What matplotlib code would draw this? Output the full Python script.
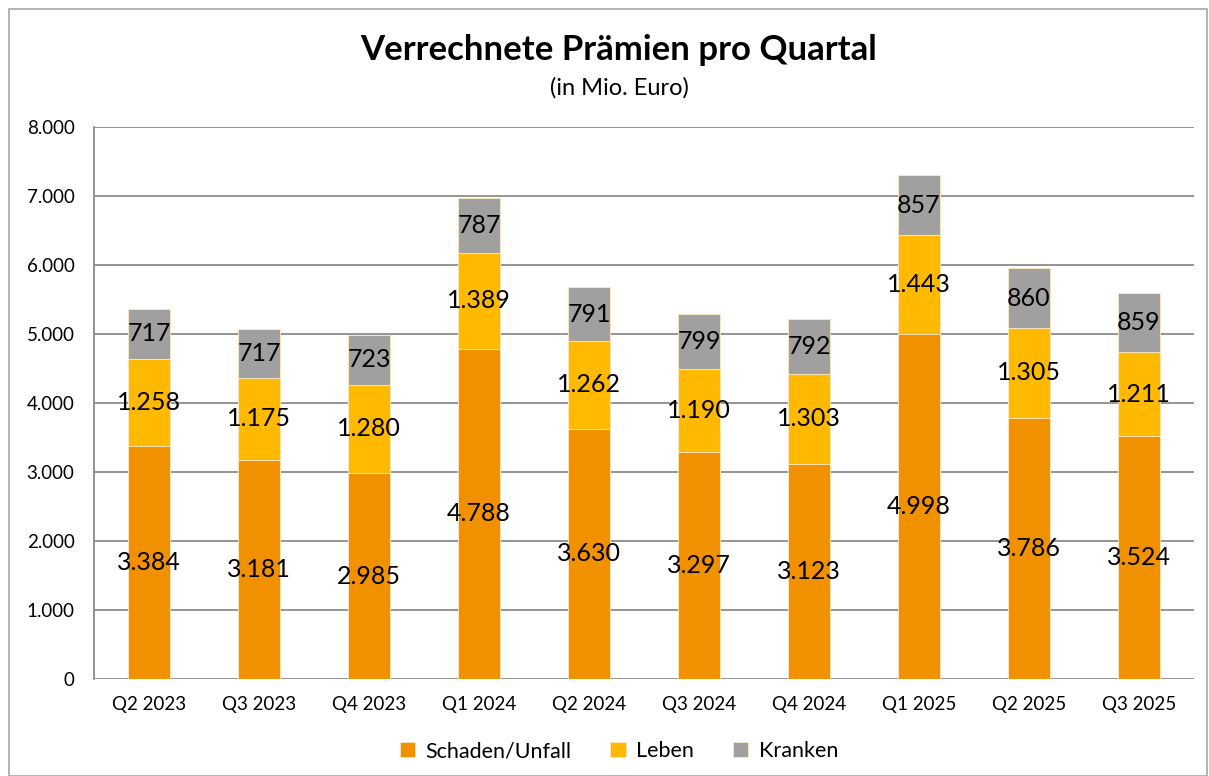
import matplotlib
matplotlib.use("Agg")
import matplotlib.pyplot as plt
import numpy as np

plt.rcParams["font.family"] = ["Lato", "DejaVu Sans"]

QUARTERS = ["Q2 2023", "Q3 2023", "Q4 2023", "Q1 2024", "Q2 2024",
            "Q3 2024", "Q4 2024", "Q1 2025", "Q2 2025", "Q3 2025"]
SCHADEN = [3384, 3181, 2985, 4788, 3630, 3297, 3123, 4998, 3786, 3524]
LEBEN = [1258, 1175, 1280, 1389, 1262, 1190, 1303, 1443, 1305, 1211]
KRANKEN = [717, 717, 723, 787, 791, 799, 792, 857, 860, 859]
SERIES = ["Schaden/Unfall", "Leben", "Kranken"]
COLORS = ["#F29100", "#FFBA00", "#A0A0A0"]
Y_TICKS = [0, 1000, 2000, 3000, 4000, 5000, 6000, 7000, 8000]


def fmt(v):
    return f"{v:,}".replace(",", ".")


fig = plt.figure(figsize=(12.09, 7.76), dpi=100)
ax = fig.add_axes([94 / 1209, 1 - 679 / 776, 1100 / 1209, 552 / 776])

# chart border
fig.patches.append(plt.Rectangle((9 / 1209, 0), 1198 / 1209, 1 - 9 / 776,
                                 transform=fig.transFigure, fill=False,
                                 edgecolor="#A6A6A6", linewidth=1.2))

x = np.arange(len(QUARTERS))
bottom = np.zeros(len(QUARTERS))
for name, vals, col in zip(SERIES, [SCHADEN, LEBEN, KRANKEN], COLORS):
    vals = np.array(vals)
    ax.bar(x, vals, bottom=bottom, width=0.38, color=col, label=name,
           edgecolor="#FFE9C0", linewidth=0.6, zorder=2)
    for xi, b, v in zip(x, bottom, vals):
        ax.text(xi, b + v / 2, fmt(int(v)), ha="center", va="center",
                fontsize=18, color="black", zorder=3)
    bottom += vals

ax.set_xlim(-0.5, len(QUARTERS) - 0.5)
ax.set_ylim(0, 8000)
ax.set_yticks(Y_TICKS)
ax.set_yticklabels([fmt(t) for t in Y_TICKS], fontsize=13.5)
ax.set_xticks(x)
ax.set_xticklabels(QUARTERS, fontsize=13.5)
ax.tick_params(axis="both", length=0, pad=14)
ax.tick_params(axis="x", pad=12)
ax.grid(axis="y", color="#8C8C8C", linewidth=1.3, zorder=0)
ax.set_axisbelow(True)
for s in ["top", "right", "bottom"]:
    ax.spines[s].set_visible(False)
ax.spines["left"].set_color("#8C8C8C")
ax.spines["left"].set_linewidth(1.3)

fig.text(0.512, 1 - 50 / 776, "Verrechnete Prämien pro Quartal", ha="center",
         va="center", fontsize=25, fontweight="bold")
fig.text(0.512, 1 - 88 / 776, "(in Mio. Euro)", ha="center", va="center",
         fontsize=17)

fig.legend(loc="center", bbox_to_anchor=(0.512, 1 - 751 / 776), ncol=3,
           frameon=False, fontsize=15.5, handlelength=0.7, handleheight=0.7,
           columnspacing=1.8, handletextpad=0.5)

fig.savefig("out.png", dpi=100)
